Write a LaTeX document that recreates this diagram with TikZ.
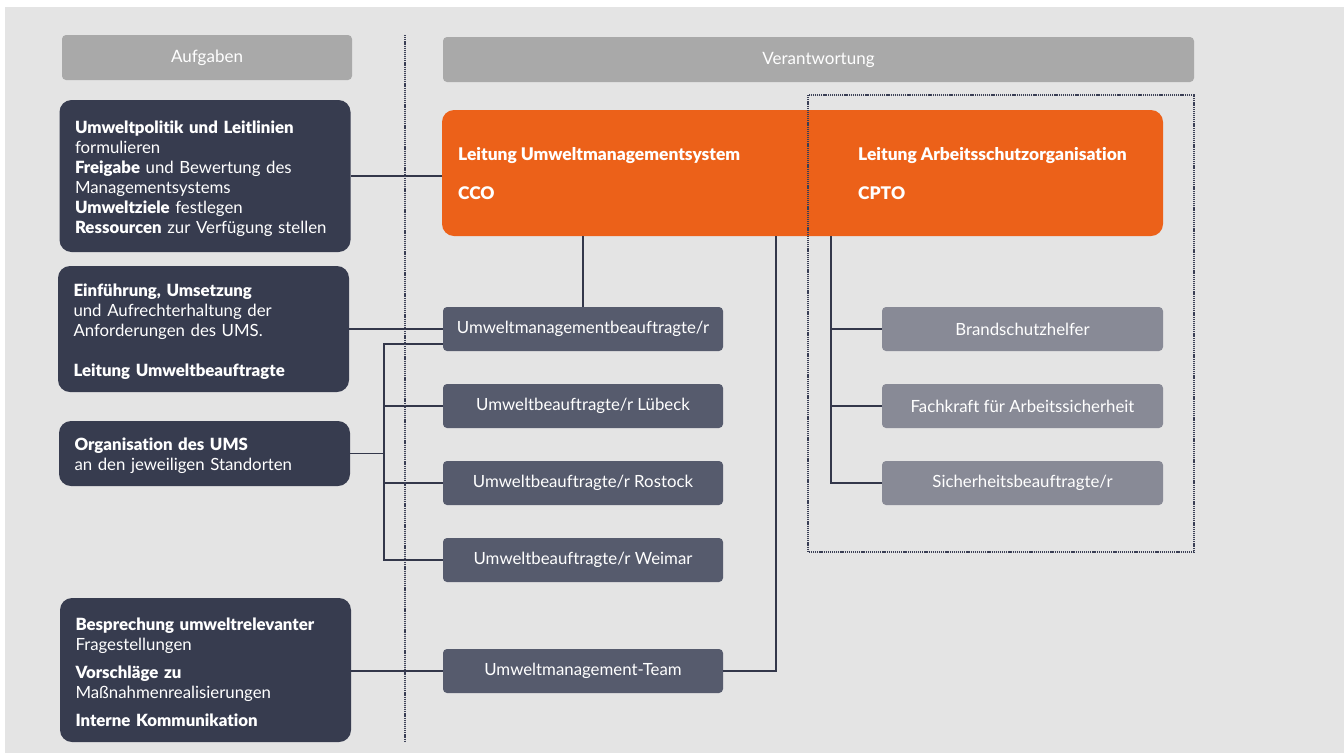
\documentclass[tikz,border=0pt]{standalone}
\usepackage{fontspec}
\setmainfont{Lato}[Ligatures={NoCommon}, BoldFont={Lato Black}]
\definecolor{bg}{HTML}{E4E4E4}
\definecolor{hdrgray}{HTML}{A9A9A9}
\definecolor{navy}{HTML}{373C4F}
\definecolor{slate}{HTML}{565B6D}
\definecolor{steel}{HTML}{888A96}
\definecolor{orng}{HTML}{EC6119}
\definecolor{linec}{HTML}{33374A}
\definecolor{dotc}{HTML}{3A3F55}
\newcommand{\topstrut}{\rule{0pt}{18pt}}
\begin{document}
\begin{tikzpicture}[x=1pt,y=-1pt,
  hdr/.style={fill=hdrgray, rounded corners=4pt, minimum height=45pt, text=white, font=\fontsize{17}{18}\selectfont, inner sep=0pt, outer sep=0pt},
  task/.style={fill=navy, rounded corners=12pt, text=white, align=left, text width=260pt, inner xsep=15.5pt, inner ysep=0pt, outer sep=0pt, minimum width=290pt, font=\fontsize{16.8}{20}\selectfont},
  role/.style={fill=slate, rounded corners=4pt, minimum width=280pt, minimum height=44pt, text=white, font=\fontsize{16.8}{18}\selectfont, inner sep=0pt, outer sep=0pt},
  safety/.style={role, fill=steel},
  leadtxt/.style={anchor=base west, text=white, font=\bfseries\fontsize{17.4}{18}\selectfont, inner sep=0pt},
  link/.style={draw=linec, line width=1.2pt},
  dotline/.style={draw=dotc, line width=2pt, dash pattern=on 1.2pt off 0.9pt}
]
\useasboundingbox (0,0) rectangle (1344,753);
\fill[white] (0,0) rectangle (1344,753);
\fill[bg] (5,7) rectangle (1344,753);

% headers
\node[hdr, minimum width=290pt] (haufg) at (207,57.5) {Aufgaben};
\node[hdr, minimum width=751pt] (hverant) at (818.5,59.5) {Verantwortung};

% task boxes
\node[task, minimum height=152pt] (t1) at (205,176) {\topstrut\textbf{Umweltpolitik und Leitlinien}\\ formulieren\\ \textbf{Freigabe} und Bewertung des\\ Managementsystems\\ \textbf{Umweltziele} festlegen\\ \textbf{Ressourcen} zur Verfügung stellen};
\node[task, minimum height=126pt] (t2) at (203.5,329) {\topstrut\textbf{Einführung, Umsetzung}\\ und Aufrechterhaltung der\\ Anforderungen des UMS.\\[20pt] \textbf{Leitung Umweltbeauftragte}};
\node[task, minimum height=65pt] (t3) at (204.5,453.5) {\topstrut\textbf{Organisation des UMS}\\ an den jeweiligen Standorten};
\node[task, minimum height=144pt] (t4) at (205.5,670) {\topstrut\textbf{Besprechung umweltrelevanter}\\ Fragestellungen\\[8pt] \textbf{Vorschläge zu}\\ Maßnahmenrealisierungen\\[8pt] \textbf{Interne Kommunikation}};

% lead box
\node[fill=orng, rounded corners=12pt, minimum width=721pt, minimum height=126pt, inner sep=0pt, outer sep=0pt] (lead) at (802.5,173) {};
\node[leadtxt] (l1) at (458,160) {Leitung Umweltmanagementsystem};
\node[leadtxt] (l2) at (458,199) {CCO};
\node[leadtxt] (l3) at (858,160) {Leitung Arbeitsschutzorganisation};
\node[leadtxt] (l4) at (858,199) {CPTO};

% role boxes
\node[role] (umb) at (583,329) {Umweltmanagementbeauftragte/r};
\node[role] (r2) at (583,406) {Umweltbeauftragte/r Lübeck};
\node[role] (r3) at (583,483) {Umweltbeauftragte/r Rostock};
\node[role] (r4) at (583,560) {Umweltbeauftragte/r Weimar};
\node[role] (team) at (583,671) {Umweltmanagement-Team};

\node[safety, minimum width=281pt] (s1) at (1022.5,329) {Brandschutzhelfer};
\node[safety, minimum width=281pt] (s2) at (1022.5,406) {Fachkraft für Arbeitssicherheit};
\node[safety, minimum width=281pt] (s3) at (1022.5,483) {Sicherheitsbeauftragte/r};

% bus coordinates
\coordinate (lbus) at (384,0);
\coordinate (tbus) at (776,0);
\coordinate (rbus) at (831,0);

% connectors
\draw[link] (t1.east) -- (t1.east -| lead.west);
\draw[link] (lead.south -| umb.north) -- (umb.north);
\draw[link] (t2.east) -- (t2.east -| umb.west);
\draw[link] ([yshift=-15pt]umb.west) -| (lbus |- r4.west) -- (r4.west);
\draw[link] (lbus |- r2.west) -- (r2.west);
\draw[link] (lbus |- r3.west) -- (r3.west);
\draw[link] (t3.east) -- (t3.east -| lbus);
\draw[link] (t4.east |- team.west) -- (team.west);
\draw[link] (lead.south -| tbus) |- (team.east);
\draw[link] (lead.south -| rbus) |- (s3.west);
\draw[link] (rbus |- s1.west) -- (s1.west);
\draw[link] (rbus |- s2.west) -- (s2.west);

% dotted separators
\draw[dotline] (405,35) -- (405,742);
\draw[dotline] (808,95) rectangle (1194,552);
\end{tikzpicture}
\end{document}
